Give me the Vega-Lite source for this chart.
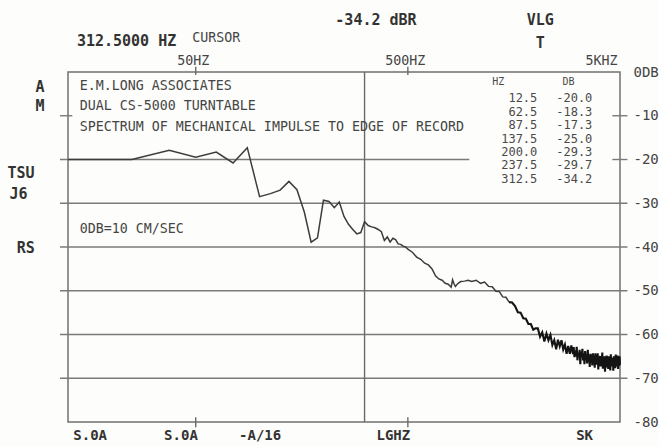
{
  "$schema": "https://vega.github.io/schema/vega-lite/v6.json",
  "width": 552,
  "height": 350,
  "autosize": {"type": "none"},
  "padding": {"left": 68, "top": 72, "right": 39, "bottom": 24},
  "background": "#fdfdfb",
  "config": {"view": {"stroke": "#707070", "strokeWidth": 1.5}},
  "resolve": {"axis": {"x": "independent", "y": "independent"}},
  "datasets": {
    "spectrum": [
      {"f": 12.5, "db": -20.0}, {"f": 25, "db": -20.0}, {"f": 37.5, "db": -17.9}, {"f": 50, "db": -19.5},
      {"f": 62.5, "db": -18.3}, {"f": 75, "db": -20.8}, {"f": 87.5, "db": -17.3}, {"f": 100, "db": -28.5},
      {"f": 112.5, "db": -27.8}, {"f": 125, "db": -27.0}, {"f": 137.5, "db": -25.0}, {"f": 150, "db": -26.9},
      {"f": 162.5, "db": -32.0}, {"f": 175, "db": -38.9}, {"f": 187.5, "db": -37.9}, {"f": 200, "db": -29.3},
      {"f": 212.5, "db": -29.6}, {"f": 225, "db": -31.0}, {"f": 237.5, "db": -29.7}, {"f": 250, "db": -33.0},
      {"f": 262.5, "db": -34.8}, {"f": 275, "db": -36.0}, {"f": 287.5, "db": -37.0}, {"f": 300, "db": -36.7},
      {"f": 312.5, "db": -34.2}, {"f": 325, "db": -35.1}, {"f": 337.5, "db": -35.4}, {"f": 350, "db": -35.6},
      {"f": 362.5, "db": -36.0}, {"f": 375, "db": -36.5}, {"f": 387.5, "db": -38.5}, {"f": 400, "db": -37.7},
      {"f": 412.5, "db": -38.9}, {"f": 425, "db": -38.0}, {"f": 437.5, "db": -38.3}, {"f": 450, "db": -39.3},
      {"f": 462.5, "db": -39.4}, {"f": 475, "db": -39.8}, {"f": 487.5, "db": -40.0}, {"f": 500, "db": -40.5},
      {"f": 525, "db": -41.2}, {"f": 550, "db": -42.3}, {"f": 575, "db": -42.8}, {"f": 600, "db": -43.7},
      {"f": 625, "db": -44.1}, {"f": 650, "db": -45.0}, {"f": 675, "db": -46.6}, {"f": 700, "db": -47.3},
      {"f": 725, "db": -47.6}, {"f": 750, "db": -48.3}, {"f": 775, "db": -48.5}, {"f": 800, "db": -49.2},
      {"f": 812.5, "db": -47.5}, {"f": 825, "db": -48.4}, {"f": 837.5, "db": -49.0}, {"f": 862.5, "db": -48.3},
      {"f": 887.5, "db": -47.9}, {"f": 925, "db": -47.8}, {"f": 962.5, "db": -47.6}, {"f": 1000, "db": -47.9},
      {"f": 1050, "db": -47.6}, {"f": 1100, "db": -48.3}, {"f": 1150, "db": -48.0}, {"f": 1200, "db": -49.0},
      {"f": 1250, "db": -49.1}, {"f": 1300, "db": -50.1}, {"f": 1350, "db": -50.2}, {"f": 1400, "db": -51.4},
      {"f": 1450, "db": -51.5}, {"f": 1500, "db": -52.6}, {"f": 1550, "db": -52.7}, {"f": 1600, "db": -53.5},
      {"f": 1650, "db": -54.9}, {"f": 1700, "db": -55.0}, {"f": 1750, "db": -56.3}, {"f": 1800, "db": -56.4},
      {"f": 1850, "db": -57.6}, {"f": 1900, "db": -57.6}, {"f": 1950, "db": -58.9}, {"f": 2000, "db": -58.6},
      {"f": 2050, "db": -58.6}, {"f": 2100, "db": -60.5}, {"f": 2150, "db": -59.5}, {"f": 2200, "db": -61.6},
      {"f": 2250, "db": -59.8}, {"f": 2300, "db": -61.3}, {"f": 2350, "db": -60.1}, {"f": 2400, "db": -62.4},
      {"f": 2450, "db": -61.3}, {"f": 2500, "db": -63.4}, {"f": 2550, "db": -61.2}, {"f": 2600, "db": -62.7},
      {"f": 2650, "db": -61.3}, {"f": 2700, "db": -63.4}, {"f": 2750, "db": -62.3}, {"f": 2800, "db": -64.4},
      {"f": 2850, "db": -62.6}, {"f": 2900, "db": -64.4}, {"f": 2950, "db": -62.5}, {"f": 3000, "db": -64.5},
      {"f": 3025, "db": -62.9}, {"f": 3050, "db": -65.2}, {"f": 3075, "db": -63.7}, {"f": 3100, "db": -65.0},
      {"f": 3125, "db": -62.8}, {"f": 3150, "db": -65.9}, {"f": 3175, "db": -64.2}, {"f": 3200, "db": -65.0},
      {"f": 3225, "db": -63.5}, {"f": 3250, "db": -66.8}, {"f": 3275, "db": -63.9}, {"f": 3300, "db": -65.1},
      {"f": 3325, "db": -63.3}, {"f": 3350, "db": -65.9}, {"f": 3375, "db": -64.3}, {"f": 3400, "db": -66.8},
      {"f": 3425, "db": -63.8}, {"f": 3450, "db": -65.7}, {"f": 3475, "db": -64.8}, {"f": 3500, "db": -66.6},
      {"f": 3525, "db": -63.5}, {"f": 3550, "db": -66.2}, {"f": 3575, "db": -64.8}, {"f": 3600, "db": -67.4},
      {"f": 3625, "db": -64.4}, {"f": 3650, "db": -65.9}, {"f": 3675, "db": -64.6}, {"f": 3700, "db": -67.1},
      {"f": 3725, "db": -64.3}, {"f": 3750, "db": -66.3}, {"f": 3775, "db": -65.5}, {"f": 3800, "db": -67.6},
      {"f": 3825, "db": -64.3}, {"f": 3850, "db": -66.9}, {"f": 3875, "db": -65.1}, {"f": 3900, "db": -66.1},
      {"f": 3925, "db": -64.3}, {"f": 3950, "db": -68.0}, {"f": 3975, "db": -65.5}, {"f": 4000, "db": -66.8},
      {"f": 4025, "db": -64.9}, {"f": 4050, "db": -67.3}, {"f": 4075, "db": -65.4}, {"f": 4100, "db": -66.5},
      {"f": 4125, "db": -64.1}, {"f": 4150, "db": -67.8}, {"f": 4175, "db": -65.8}, {"f": 4200, "db": -67.1},
      {"f": 4225, "db": -65.0}, {"f": 4250, "db": -68.5}, {"f": 4275, "db": -65.3}, {"f": 4300, "db": -66.8},
      {"f": 4325, "db": -64.8}, {"f": 4350, "db": -67.5}, {"f": 4375, "db": -65.8}, {"f": 4400, "db": -67.9},
      {"f": 4425, "db": -65.0}, {"f": 4450, "db": -67.1}, {"f": 4475, "db": -65.9}, {"f": 4500, "db": -68.2},
      {"f": 4525, "db": -64.5}, {"f": 4550, "db": -67.3}, {"f": 4575, "db": -65.6}, {"f": 4600, "db": -66.7},
      {"f": 4625, "db": -65.3}, {"f": 4650, "db": -68.3}, {"f": 4675, "db": -65.0}, {"f": 4700, "db": -66.9},
      {"f": 4725, "db": -65.9}, {"f": 4750, "db": -67.7}, {"f": 4775, "db": -64.6}, {"f": 4800, "db": -67.3},
      {"f": 4825, "db": -65.3}, {"f": 4850, "db": -66.6}, {"f": 4875, "db": -64.8}, {"f": 4900, "db": -67.9},
      {"f": 4925, "db": -65.4}, {"f": 4950, "db": -67.2}, {"f": 4975, "db": -65.0}, {"f": 5000, "db": -66.9}
    ],
    "hgrid": [
      {"db": -10, "f1": 11.46, "f2": 13.1},
      {"db": -10, "f1": 4600, "f2": 5420},
      {"db": -20, "f1": 11.46, "f2": 974},
      {"db": -20, "f1": 4600, "f2": 5420},
      {"db": -30, "f1": 11.46, "f2": 5420},
      {"db": -40, "f1": 11.46, "f2": 5420},
      {"db": -50, "f1": 11.46, "f2": 5420},
      {"db": -60, "f1": 11.46, "f2": 5420},
      {"db": -70, "f1": 11.46, "f2": 5420}
    ],
    "vlines": [
      {"f": 312.5, "db1": 0, "db2": -80},
      {"f": 50, "db1": 1.2, "db2": -0.7},
      {"f": 500, "db1": 1.2, "db2": -0.7},
      {"f": 50, "db1": -78.9, "db2": -81.2},
      {"f": 500, "db1": -78.9, "db2": -81.2}
    ],
    "boxText": [
      {"f": 14.2, "db": -3.2, "t": "E.M.LONG ASSOCIATES"},
      {"f": 14.2, "db": -7.8, "t": "DUAL CS-5000 TURNTABLE"},
      {"f": 14.2, "db": -12.6, "t": "SPECTRUM OF MECHANICAL IMPULSE TO EDGE OF RECORD"},
      {"f": 14.2, "db": -35.9, "t": "0DB=10 CM/SEC"},
      {"f": 48.1, "db": 7.8, "t": "CURSOR"}
    ],
    "boldText": [
      {"f": 23.6, "db": 7.1, "t": "312.5000 HZ"},
      {"f": 353.7, "db": 11.9, "t": "-34.2 dBR"},
      {"f": 2106, "db": 11.9, "t": "VLG"},
      {"f": 2106, "db": 6.6, "t": "T"},
      {"f": 9.23, "db": -3.4, "t": "A"},
      {"f": 9.23, "db": -7.8, "t": "M"},
      {"f": 7.5, "db": -23.1, "t": "TSU"},
      {"f": 7.3, "db": -27.9, "t": "J6"},
      {"f": 7.9, "db": -40.2, "t": "RS"}
    ],
    "keyText": [
      {"f": 15.9, "db": -83.3, "t": "S.0A"},
      {"f": 42.6, "db": -83.3, "t": "S.0A"},
      {"f": 100.6, "db": -83.3, "t": "-A/16"},
      {"f": 427, "db": -83.3, "t": "LGHZ"},
      {"f": 3405, "db": -83.3, "t": "SK"}
    ],
    "table": [
      {"row": -5.94, "hz": "12.5", "val": "-20.0"},
      {"row": -9.03, "hz": "62.5", "val": "-18.3"},
      {"row": -12.11, "hz": "87.5", "val": "-17.3"},
      {"row": -15.2, "hz": "137.5", "val": "-25.0"},
      {"row": -18.29, "hz": "200.0", "val": "-29.3"},
      {"row": -21.37, "hz": "237.5", "val": "-29.7"},
      {"row": -24.46, "hz": "312.5", "val": "-34.2"}
    ],
    "tableHead": [
      {"f": 1335, "db": -2.29, "t": "HZ"},
      {"f": 2856, "db": -2.29, "t": "DB"}
    ]
  },
  "layer": [
    {
      "data": {"name": "hgrid"},
      "mark": {"type": "rule", "color": "#7a7a7a", "strokeWidth": 1.4},
      "encoding": {
        "x": {"field": "f1", "type": "quantitative", "scale": {"type": "log", "domain": [12.5, 5000], "nice": false}, "axis": null},
        "x2": {"field": "f2"},
        "y": {"field": "db", "type": "quantitative", "scale": {"domain": [-80, 0], "nice": false, "zero": false}, "axis": null}
      }
    },
    {
      "data": {"name": "vlines"},
      "mark": {"type": "rule", "color": "#6a6a6a", "strokeWidth": 1.4},
      "encoding": {
        "x": {"field": "f", "type": "quantitative", "scale": {"type": "log", "domain": [12.5, 5000], "nice": false}, "axis": null},
        "y": {"field": "db1", "type": "quantitative", "scale": {"domain": [-80, 0], "nice": false, "zero": false}, "axis": null},
        "y2": {"field": "db2"}
      }
    },
    {
      "data": {"name": "spectrum"},
      "transform": [{"filter": "datum.f <= 1500"}],
      "mark": {"type": "line", "color": "#3c3c3c", "strokeWidth": 1.5},
      "encoding": {
        "x": {
          "field": "f", "type": "quantitative",
          "scale": {"type": "log", "domain": [12.5, 5000], "nice": false},
          "axis": {
            "orient": "top", "values": [50, 500, 5000], "title": null,
            "labelExpr": "datum.value == 50 ? '50HZ' : (datum.value == 500 ? '500HZ' : '5KHZ')",
            "ticks": false, "domain": false, "grid": false, "labelPadding": 5,
            "labelFont": "DejaVu Sans Mono", "labelFontSize": 13.3, "labelColor": "#444444",
            "labelAlign": {"condition": {"test": "datum.value == 5000", "value": "right"}, "value": "center"},
            "labelOffset": -3, "labelFlush": false, "labelOverlap": false
          }
        },
        "y": {
          "field": "db", "type": "quantitative",
          "scale": {"domain": [-80, 0], "nice": false, "zero": false},
          "axis": {
            "orient": "right", "values": [0, -10, -20, -30, -40, -50, -60, -70, -80], "title": null,
            "labelExpr": "datum.value == 0 ? '0DB' : '' + datum.value",
            "ticks": false, "domain": false, "grid": false, "labelPadding": 13,
            "labelFont": "DejaVu Sans Mono", "labelFontSize": 14, "labelColor": "#444444",
            "labelFlush": false, "labelOverlap": false
          }
        }
      }
    },
    {
      "data": {"name": "spectrum"},
      "transform": [{"filter": "datum.f >= 1500"}],
      "mark": {"type": "line", "color": "#141414", "strokeWidth": 2.1},
      "encoding": {
        "x": {"field": "f", "type": "quantitative", "scale": {"type": "log", "domain": [12.5, 5000], "nice": false}, "axis": null},
        "y": {"field": "db", "type": "quantitative", "scale": {"domain": [-80, 0], "nice": false, "zero": false}, "axis": null}
      }
    },
    {
      "data": {"name": "boxText"},
      "mark": {"type": "text", "align": "left", "baseline": "middle", "font": "DejaVu Sans Mono", "fontSize": 13.3, "color": "#454545"},
      "encoding": {
        "x": {"field": "f", "type": "quantitative", "scale": {"type": "log", "domain": [12.5, 5000], "nice": false}, "axis": null},
        "y": {"field": "db", "type": "quantitative", "scale": {"domain": [-80, 0], "nice": false, "zero": false}, "axis": null},
        "text": {"field": "t"}
      }
    },
    {
      "data": {"name": "boldText"},
      "mark": {"type": "text", "align": "center", "baseline": "middle", "font": "DejaVu Sans Mono", "fontWeight": "bold", "fontSize": 15, "color": "#333333"},
      "encoding": {
        "x": {"field": "f", "type": "quantitative", "scale": {"type": "log", "domain": [12.5, 5000], "nice": false}, "axis": null},
        "y": {"field": "db", "type": "quantitative", "scale": {"domain": [-80, 0], "nice": false, "zero": false}, "axis": null},
        "text": {"field": "t"}
      }
    },
    {
      "data": {"name": "keyText"},
      "mark": {"type": "text", "align": "center", "baseline": "middle", "font": "DejaVu Sans Mono", "fontWeight": "bold", "fontSize": 14, "color": "#333333"},
      "encoding": {
        "x": {"field": "f", "type": "quantitative", "scale": {"type": "log", "domain": [12.5, 5000], "nice": false}, "axis": null},
        "y": {"field": "db", "type": "quantitative", "scale": {"domain": [-80, 0], "nice": false, "zero": false}, "axis": null},
        "text": {"field": "t"}
      }
    },
    {
      "data": {"name": "table"},
      "mark": {"type": "text", "align": "right", "baseline": "middle", "font": "DejaVu Sans Mono", "fontSize": 12, "color": "#4a4a4a"},
      "encoding": {
        "x": {"datum": 2038, "type": "quantitative", "scale": {"type": "log", "domain": [12.5, 5000], "nice": false}, "axis": null},
        "y": {"field": "row", "type": "quantitative", "scale": {"domain": [-80, 0], "nice": false, "zero": false}, "axis": null},
        "text": {"field": "hz"}
      }
    },
    {
      "data": {"name": "table"},
      "mark": {"type": "text", "align": "right", "baseline": "middle", "font": "DejaVu Sans Mono", "fontSize": 12, "color": "#4a4a4a"},
      "encoding": {
        "x": {"datum": 3703, "type": "quantitative", "scale": {"type": "log", "domain": [12.5, 5000], "nice": false}, "axis": null},
        "y": {"field": "row", "type": "quantitative", "scale": {"domain": [-80, 0], "nice": false, "zero": false}, "axis": null},
        "text": {"field": "val"}
      }
    },
    {
      "data": {"name": "tableHead"},
      "mark": {"type": "text", "align": "center", "baseline": "middle", "font": "DejaVu Sans Mono", "fontSize": 10, "color": "#4a4a4a"},
      "encoding": {
        "x": {"field": "f", "type": "quantitative", "scale": {"type": "log", "domain": [12.5, 5000], "nice": false}, "axis": null},
        "y": {"field": "db", "type": "quantitative", "scale": {"domain": [-80, 0], "nice": false, "zero": false}, "axis": null},
        "text": {"field": "t"}
      }
    }
  ]
}
